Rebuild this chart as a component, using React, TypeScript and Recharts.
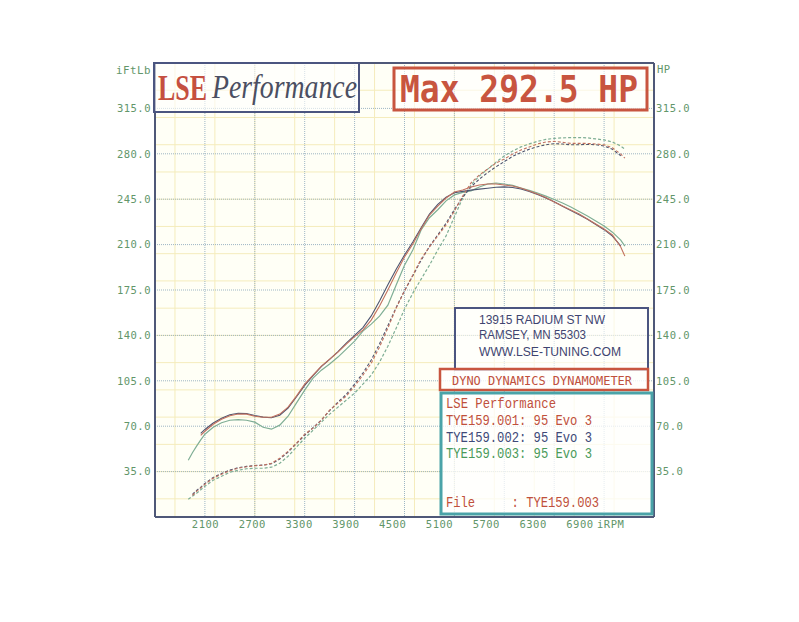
import React from 'react';
import { LineChart, Line, XAxis, YAxis, CartesianGrid, ReferenceLine } from 'recharts';

// ---- data ----
const rpm = [1900, 1950, 2000, 2050,
  2100, 2200, 2300, 2400, 2500, 2600, 2700, 2800, 2900, 3000,
  3100, 3200, 3300, 3400, 3500, 3600, 3700, 3800, 3900, 4000,
  4100, 4200, 4300, 4400, 4500, 4600, 4700, 4800, 4900, 5000,
  5100, 5200, 5300, 5400, 5500, 5600, 5700, 5800, 5900, 6000,
  6100, 6200, 6300, 6400, 6500, 6600, 6700, 6800, 6900, 7000,
  7100, 7150];

const torque001 = [null, null, null, 63.0,
  66.1, 71.5, 75.4, 78.1, 79.4, 79.3, 77.7, 76.9, 76.9, 79.3,
  84.7, 93.2, 102.4, 109.4, 116.3, 121.7, 127.1, 133.3, 139.1, 144.1,
  151.8, 162.6, 175.0, 188.1, 200.4, 210.5, 222.0, 232.8, 239.7, 245.9,
  250.5, 252.1, 254.4, 255.9, 256.7, 256.7, 255.9, 255.2, 253.6, 251.4,
  249.0, 246.3, 242.9, 239.7, 236.6, 233.6, 229.8, 225.9, 222.0, 217.4,
  208.2, 201.1];

const torque002 = [null, null, null, 64.5,
  67.5, 72.5, 76.2, 78.8, 80.0, 79.8, 78.2, 77.0, 76.5, 78.5,
  84.0, 92.5, 101.5, 109.0, 116.0, 121.5, 127.5, 134.0, 140.0, 146.0,
  155.0, 166.5, 179.0, 191.0, 202.0, 212.0, 223.0, 233.5, 241.0, 246.5,
  250.0, 251.0, 252.0, 252.8, 253.5, 254.2, 254.5, 254.0, 252.8, 251.0,
  248.6, 246.0, 243.0, 239.5, 236.2, 233.0, 229.5, 225.5, 221.5, 216.5,
  209.0, null];

const torque003 = [43.8, 49.5, 54.6, 59.5,
  63.8, 69.2, 72.7, 74.6, 75.0, 74.6, 73.1, 69.2, 67.7, 70.8,
  77.7, 87.8, 97.8, 107.1, 113.2, 117.9, 123.3, 129.4, 135.6, 143.3,
  148.7, 154.9, 163.3, 178.8, 194.1, 205.8, 221.3, 230.7, 236.9, 243.7,
  248.3, 250.2, 251.4, 254.4, 256.7, 257.5, 256.7, 255.6, 253.6, 251.8,
  249.8, 247.4, 244.8, 242.1, 239.0, 235.5, 232.0, 228.2, 224.3, 219.6,
  213.5, 208.8];

const power001 = [null, 16.7, 19.8, 22.5,
  25.2, 29.9, 33.0, 35.7, 37.6, 38.7, 39.5, 39.9, 41.4, 45.3,
  50.7, 56.9, 63.8, 68.5, 74.6, 82.4, 87.8, 93.2, 100.9, 109.4,
  118.6, 131.0, 145.6, 161.1, 174.2, 186.5, 198.9, 208.2, 216.7, 225.1,
  235.9, 247.5, 257.6, 263.7, 268.2, 272.9, 276.0, 279.8, 282.9, 285.3,
  287.6, 289.1, 289.6, 288.8, 288.0, 288.0, 288.0, 287.6, 286.9, 284.6,
  279.8, 276.7];

const power002 = [null, 17.5, 20.5, 23.0,
  25.8, 30.5, 33.6, 36.2, 38.0, 39.0, 39.7, 40.0, 41.0, 44.6,
  50.0, 56.5, 63.0, 68.8, 74.8, 82.0, 88.6, 94.5, 102.5, 111.0,
  121.0, 133.5, 147.5, 161.5, 174.5, 186.0, 198.0, 208.5, 217.5, 226.5,
  237.0, 246.5, 254.5, 260.5, 265.5, 270.0, 274.0, 278.0, 281.0, 283.5,
  285.5, 287.0, 287.8, 287.5, 287.0, 287.0, 287.2, 287.0, 286.0, 283.5,
  278.5, null];

const power003 = [13.7, 16.0, 18.3, 21.0,
  23.7, 28.3, 31.4, 34.5, 36.0, 37.2, 37.6, 37.6, 38.4, 41.4,
  46.8, 53.8, 60.7, 66.9, 73.1, 79.3, 84.7, 90.1, 95.5, 102.4,
  109.4, 119.4, 131.7, 145.6, 160.2, 172.6, 183.4, 194.1, 205.8, 216.7,
  231.3, 246.0, 256.0, 262.9, 268.2, 273.6, 278.3, 282.1, 285.3, 287.6,
  289.6, 291.1, 291.9, 292.3, 292.5, 292.5, 292.3, 291.5, 290.7, 289.1,
  286.0, 283.6];

const rpmTicks = [2100, 2700, 3300, 3900, 4500, 5100, 5700, 6300, 6900];
const valueTicks = [35, 70, 105, 140, 175, 210, 245, 280, 315];
const minorRpmTicks = Array.from({ length: 51 }, (_, i) => 1500 + i * 120);
const minorValueTicks = Array.from({ length: 51 }, (_, i) => i * 7);

const title = 'Max 292.5 HP';
const addressLines = ['13915 RADIUM ST NW', 'RAMSEY, MN 55303', 'WWW.LSE-TUNING.COM'];
const runs = [
  { file: 'TYE159.001', label: 'TYE159.001: 95 Evo 3', color: '#c0503c', line: '#c0705f' },
  { file: 'TYE159.002', label: 'TYE159.002: 95 Evo 3', color: '#404a78', line: '#4e5570' },
  { file: 'TYE159.003', label: 'TYE159.003: 95 Evo 3', color: '#4a9a5a', line: '#7fae95' },
];

const rows = rpm.map((r, i) => ({
  rpm: r,
  t1: torque001[i], t2: torque002[i], t3: torque003[i],
  p1: power001[i], p2: power002[i], p3: power003[i],
}));

// ---- styles ----
const TICK_GREEN = '#62966a';
const FRAME = '#4f5878';
const monoTick = { fontFamily: 'DejaVu Sans Mono', fontSize: 10.5, letterSpacing: 0.5, fill: TICK_GREEN };

const LeftTick = (p: any) => (
  <text x={p.x} y={p.y} dy={3.8} textAnchor="end" style={monoTick}>{Number(p.payload.value).toFixed(1)}</text>
);
const RightTick = (p: any) => (
  <text x={p.x} y={p.y} dy={3.8} textAnchor="start" style={monoTick}>{Number(p.payload.value).toFixed(1)}</text>
);
const BottomTick = (p: any) => (
  <text x={p.x} y={p.y} dy={8} textAnchor="middle" style={monoTick}>{p.payload.value}</text>
);

export default function App() {
  const W = 783;
  const H = 606;
  const boxFill = 'rgba(255,255,255,0.6)';
  return (
    <div style={{ position: 'relative', width: W, height: H, background: '#ffffff' }}>
      <LineChart width={W} height={H} data={rows} margin={{ top: 55, right: 97, bottom: 77, left: 107 }}>
        <XAxis xAxisId="minor" dataKey="rpm" type="number" domain={[1500, 7500]} ticks={minorRpmTicks} allowDataOverflow hide />
        <YAxis yAxisId="minor" type="number" domain={[0, 350]} ticks={minorValueTicks} allowDataOverflow hide />
        <XAxis xAxisId="rpm" dataKey="rpm" type="number" domain={[1500, 7500]} ticks={rpmTicks} allowDataOverflow hide />
        <XAxis xAxisId="lab" dataKey="rpm" type="number" domain={[1452.6, 7850]} ticks={rpmTicks} allowDataOverflow
          height={20} tickSize={0} tickMargin={3} interval={0} tick={<BottomTick />}
          axisLine={{ stroke: FRAME, strokeWidth: 2 }} tickLine={false} />
        <YAxis yAxisId="left" type="number" domain={[0, 350]} ticks={valueTicks} allowDataOverflow width={40}
          tickSize={0} tickMargin={4} interval={0} tick={<LeftTick />}
          axisLine={{ stroke: FRAME, strokeWidth: 2 }} tickLine={false} />
        <YAxis yAxisId="right" orientation="right" type="number" domain={[0, 350]} ticks={valueTicks} allowDataOverflow width={40}
          tickSize={0} tickMargin={2} interval={0} tick={<RightTick />}
          axisLine={{ stroke: FRAME, strokeWidth: 2 }} tickLine={false} />
        <CartesianGrid xAxisId="minor" yAxisId="minor" stroke="#f5ecbc" strokeWidth={1} fill="#fffff6" />
        <CartesianGrid xAxisId="rpm" yAxisId="left" stroke="#9db6c4" strokeDasharray="1 1" strokeWidth={1} fill="none" />
        <ReferenceLine xAxisId="rpm" yAxisId="left" y={350} stroke={FRAME} strokeWidth={2} />
        <Line xAxisId="rpm" yAxisId="left" dataKey="t3" stroke={runs[2].line} strokeWidth={1.2} dot={false} isAnimationActive={false} />
        <Line xAxisId="rpm" yAxisId="left" dataKey="p3" stroke={runs[2].line} strokeWidth={1.2} strokeDasharray="3 2" dot={false} isAnimationActive={false} />
        <Line xAxisId="rpm" yAxisId="left" dataKey="t2" stroke={runs[1].line} strokeWidth={1.1} dot={false} isAnimationActive={false} />
        <Line xAxisId="rpm" yAxisId="left" dataKey="p2" stroke={runs[1].line} strokeWidth={1.1} strokeDasharray="3 2" dot={false} isAnimationActive={false} />
        <Line xAxisId="rpm" yAxisId="left" dataKey="t1" stroke={runs[0].line} strokeWidth={1.1} dot={false} isAnimationActive={false} />
        <Line xAxisId="rpm" yAxisId="left" dataKey="p1" stroke={runs[0].line} strokeWidth={1.1} strokeDasharray="3 2" dot={false} isAnimationActive={false} />
      </LineChart>

      <svg width={W} height={H} style={{ position: 'absolute', left: 0, top: 0, pointerEvents: 'none' }}>
        <g transform="translate(-8,-8)">
          {/* axis captions */}
          <text x={116} y={73.5} textLength={35} lengthAdjust="spacingAndGlyphs" style={monoTick}>iFtLb</text>
          <text x={657} y={72.5} style={monoTick}>HP</text>
          <text x={597} y={528.3} style={monoTick}>iRPM</text>

          {/* LSE Performance box */}
          <rect x={154} y={63} width={205} height={49} fill={boxFill} stroke="#4b5580" strokeWidth={2} />
          <g transform="translate(158,100) scale(1,1.35)">
            <text x={0} y={0} textLength={49} lengthAdjust="spacingAndGlyphs"
              style={{ fontFamily: 'Liberation Serif', fontWeight: 'bold', fontSize: 26, fill: '#c5503f' }}>LSE</text>
          </g>
          <g transform="translate(212,98) scale(1,1.2)">
            <text x={0} y={0} textLength={145} lengthAdjust="spacingAndGlyphs"
              style={{ fontFamily: 'Liberation Serif', fontStyle: 'italic', fontSize: 28.3, fill: '#4b4f62' }}>Performance</text>
          </g>

          {/* Max HP box */}
          <rect x={394} y={68} width={253} height={42} fill={boxFill} stroke="#c8553f" strokeWidth={3} />
          <g transform="translate(400,102) scale(1,1.12)">
            <text x={0} y={0} textLength={238} lengthAdjust="spacingAndGlyphs"
              style={{ fontFamily: 'DejaVu Sans Mono', fontWeight: 'bold', fontSize: 33, fill: '#c8553f' }}>{title}</text>
          </g>

          {/* address box */}
          <rect x={455} y={308} width={193} height={62} fill={boxFill} stroke="#4b5580" strokeWidth={2} />
          {addressLines.map((t, i) => (
            <text key={t} x={479} y={[323.5, 339.3, 356][i]} textLength={[126, 107, 142][i]} lengthAdjust="spacingAndGlyphs"
              style={{ fontFamily: 'Liberation Sans', fontSize: 12.5, fill: '#3e4470' }}>{t}</text>
          ))}

          {/* dyno box */}
          <rect x={440} y={369} width={208} height={21} fill="rgba(255,255,255,0.8)" stroke="#c8553f" strokeWidth={2.5} />
          <text x={452} y={385} textLength={180} lengthAdjust="spacingAndGlyphs"
            style={{ fontFamily: 'DejaVu Sans Mono', fontSize: 12, fill: '#c0503c' }}>DYNO DYNAMICS DYNAMOMETER</text>

          {/* legend box */}
          <rect x={441} y={393} width={211} height={121} fill="rgba(255,255,255,0.75)" stroke="#4aa3a8" strokeWidth={3} />
          <g transform="translate(446,408.3) scale(1,1.2)">
            <text x={0} y={0} textLength={110} lengthAdjust="spacingAndGlyphs"
              style={{ fontFamily: 'Liberation Mono', fontSize: 12.2, fill: '#c0503c' }}>LSE Performance</text>
          </g>
          {runs.map((r, i) => (
            <g key={r.file} transform={`translate(446,${[425, 441.7, 457.7][i]}) scale(1,1.2)`}>
              <text x={0} y={0} textLength={146} lengthAdjust="spacingAndGlyphs"
                style={{ fontFamily: 'Liberation Mono', fontSize: 12.2, fill: r.color }}>{r.label}</text>
            </g>
          ))}
          <g transform="translate(446,506.7) scale(1,1.2)">
            <text x={0} y={0} textLength={153} lengthAdjust="spacingAndGlyphs"
              style={{ fontFamily: 'Liberation Mono', fontSize: 12.2, fill: '#c0503c', whiteSpace: 'pre' }}>{'File     : ' + runs[2].file}</text>
          </g>
        </g>
      </svg>
    </div>
  );
}
